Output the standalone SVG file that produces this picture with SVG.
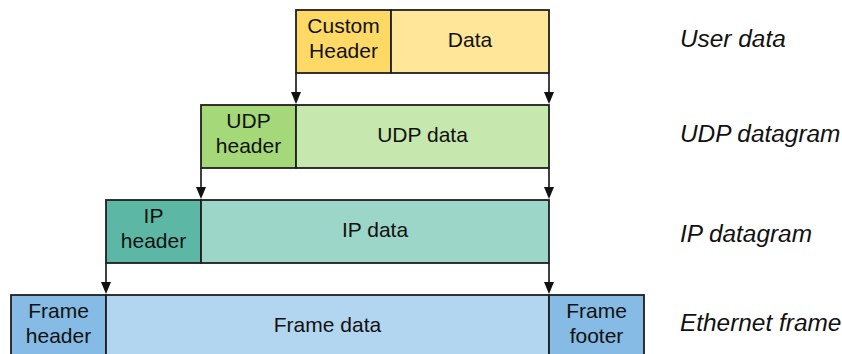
<svg xmlns="http://www.w3.org/2000/svg" width="842" height="354" viewBox="0 0 842 354">
<defs>
<style>
.b{stroke:#1f1f1f;stroke-width:1.8}
.t{font-family:"Liberation Sans",Arial,sans-serif;font-size:21px;fill:#111;text-anchor:middle}
.l{font-family:"Liberation Sans",Arial,sans-serif;font-size:24.4px;font-style:italic;fill:#111}
.c{stroke:#111;stroke-width:1.6;fill:none}
.h{fill:#111}
</style>
</defs>
<rect width="842" height="354" fill="#fff"/>
<g id="connectors">
<path class="c" d="M296 73 V94"/>
<path class="c" d="M549 73 V94"/>
<path class="c" d="M201 168 V189"/>
<path class="c" d="M549 168 V189"/>
<path class="c" d="M106 263 V284"/>
<path class="c" d="M549 263 V284"/>
<path class="h" d="M291 92 L301 92 L296 104 Z"/>
<path class="h" d="M544 92 L554 92 L549 104 Z"/>
<path class="h" d="M196 187 L206 187 L201 199 Z"/>
<path class="h" d="M544 187 L554 187 L549 199 Z"/>
<path class="h" d="M101 282 L111 282 L106 294 Z"/>
<path class="h" d="M544 282 L554 282 L549 294 Z"/>
</g>
<g id="custom-header">
<rect class="b" x="296" y="10" width="95" height="63" fill="#ffd966"/>
<text class="t" x="343.5" y="33">Custom</text>
<text class="t" x="343.5" y="58">Header</text>
</g>
<g id="data">
<rect class="b" x="391" y="10" width="158" height="63" fill="#ffe699"/>
<text class="t" x="470" y="47">Data</text>
</g>
<g id="udp-header">
<rect class="b" x="201" y="105" width="95" height="63" fill="#a5d878"/>
<text class="t" x="248.5" y="128">UDP</text>
<text class="t" x="248.5" y="153">header</text>
</g>
<g id="udp-data">
<rect class="b" x="296" y="105" width="253" height="63" fill="#c6e8ae"/>
<text class="t" x="422.5" y="142">UDP data</text>
</g>
<g id="ip-header">
<rect class="b" x="106" y="200" width="95" height="63" fill="#5cb8a5"/>
<text class="t" x="153.5" y="223">IP</text>
<text class="t" x="153.5" y="248">header</text>
</g>
<g id="ip-data">
<rect class="b" x="201" y="200" width="348" height="63" fill="#9bd6c9"/>
<text class="t" x="375" y="237">IP data</text>
</g>
<g id="frame-header">
<rect class="b" x="11" y="295" width="95" height="63" fill="#85bbe4"/>
<text class="t" x="58.5" y="318">Frame</text>
<text class="t" x="58.5" y="343">header</text>
</g>
<g id="frame-data">
<rect class="b" x="106" y="295" width="443" height="63" fill="#b3d6f0"/>
<text class="t" x="327.5" y="332">Frame data</text>
</g>
<g id="frame-footer">
<rect class="b" x="549" y="295" width="95" height="63" fill="#85bbe4"/>
<text class="t" x="596.5" y="318">Frame</text>
<text class="t" x="596.5" y="343">footer</text>
</g>
<g id="labels">
<text class="l" x="680" y="47">User data</text>
<text class="l" x="680" y="142">UDP datagram</text>
<text class="l" x="680" y="242">IP datagram</text>
<text class="l" x="680" y="331">Ethernet frame</text>
</g>
</svg>
